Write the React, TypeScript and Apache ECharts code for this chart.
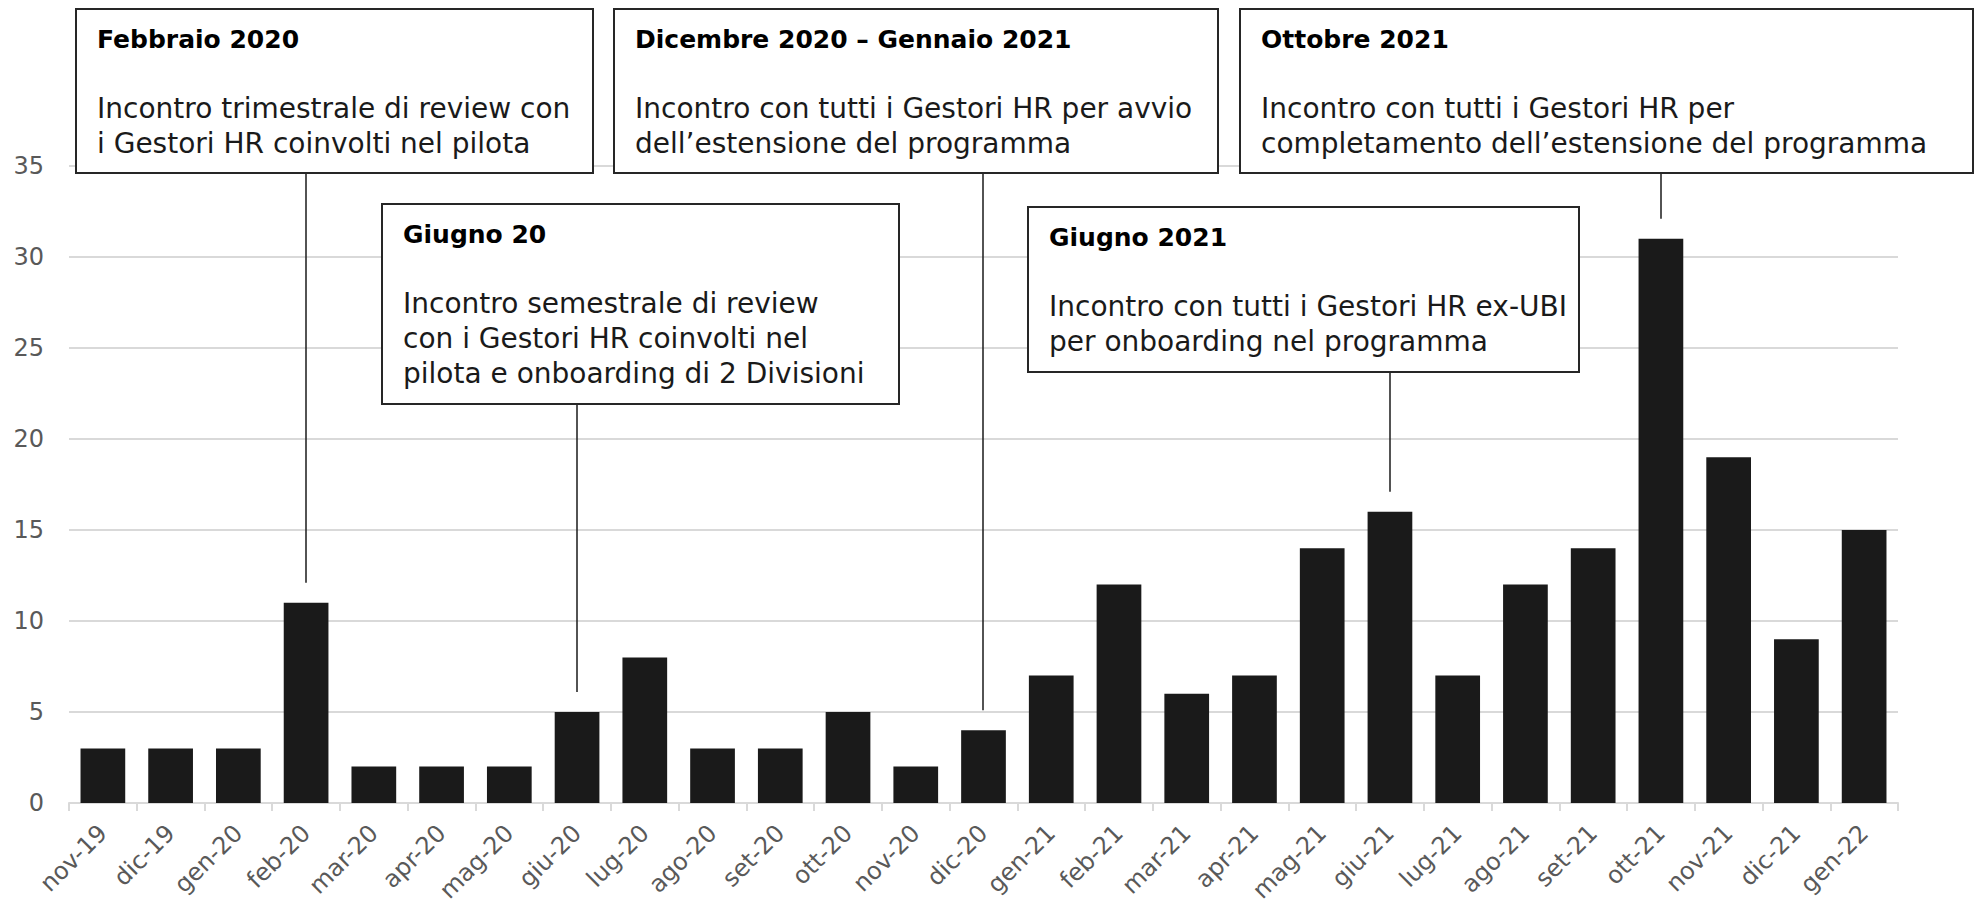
import React, { useEffect, useRef } from "react";
import * as echarts from "echarts";

const categories = [
  "nov-19", "dic-19", "gen-20", "feb-20", "mar-20", "apr-20", "mag-20", "giu-20", "lug-20",
  "ago-20", "set-20", "ott-20", "nov-20", "dic-20", "gen-21", "feb-21", "mar-21", "apr-21",
  "mag-21", "giu-21", "lug-21", "ago-21", "set-21", "ott-21", "nov-21", "dic-21", "gen-22",
];
const values = [3, 3, 3, 11, 2, 2, 2, 5, 8, 3, 3, 5, 2, 4, 7, 12, 6, 7, 14, 16, 7, 12, 14, 31, 19, 9, 15];
const yTicks = { min: 0, max: 35, interval: 5 };

const annotationCategories = ["feb-20", "dic-20", "ott-21", "giu-20", "giu-21"];
const annotationTitles = [
  "Febbraio 2020",
  "Dicembre 2020 – Gennaio 2021",
  "Ottobre 2021",
  "Giugno 20",
  "Giugno 2021",
];
const annotationBodies = [
  ["Incontro trimestrale di review con", "i Gestori HR coinvolti nel pilota"],
  ["Incontro con tutti i Gestori HR per avvio", "dell’estensione del programma"],
  ["Incontro con tutti i Gestori HR per", "completamento dell’estensione del programma"],
  ["Incontro semestrale di review", "con i Gestori HR coinvolti nel", "pilota e onboarding di 2 Divisioni"],
  ["Incontro con tutti i Gestori HR ex-UBI", "per onboarding nel programma"],
];

// layout of the callout boxes (pixels): x, y, width, height
const boxLayout = [
  [76, 9, 517, 164],
  [614, 9, 604, 164],
  [1240, 9, 733, 164],
  [382, 204, 517, 200],
  [1028, 207, 551, 165],
];

const FONT = "DejaVu Sans";

export default function App() {
  const ref = useRef<HTMLDivElement>(null);
  useEffect(() => {
    if (!ref.current) return;
    const chart = echarts.init(ref.current, null, { renderer: "svg" });
    chart.setOption({
      animation: false,
      backgroundColor: "#ffffff",
      grid: {
        left: 69,
        right: 79,
        top: 166,
        bottom: 102,
        containLabel: false,
        outerBoundsMode: "none",
      },
      xAxis: {
        type: "category",
        data: categories,
        axisLine: { lineStyle: { color: "#d9d9d9", width: 2 } },
        axisTick: { show: true, length: 8, lineStyle: { color: "#d9d9d9", width: 2 } },
        axisLabel: {
          show: true,
          interval: 0,
          rotate: 45,
          color: "#595959",
          fontSize: 24,
          fontFamily: FONT,
          margin: 26,
        },
      },
      yAxis: {
        type: "value",
        min: yTicks.min,
        max: yTicks.max,
        interval: yTicks.interval,
        axisLine: { show: false },
        axisTick: { show: false },
        axisLabel: { color: "#595959", fontSize: 24, fontFamily: FONT, margin: 25 },
        splitLine: { lineStyle: { color: "#d9d9d9", width: 2 } },
      },
      series: [
        {
          type: "bar",
          data: values,
          barCategoryGap: "34%",
          itemStyle: { color: "#1a1a1a" },
        },
      ],
    });

    const graphics: any[] = [];
    annotationCategories.forEach((cat, i) => {
      const idx = categories.indexOf(cat);
      const [bx, by, bw, bh] = boxLayout[i];
      const pt = chart.convertToPixel({ gridIndex: 0 }, [idx, values[idx]]) as number[];
      const cx = Math.round(pt[0]);
      graphics.push({
        type: "line",
        shape: { x1: cx, y1: by + bh, x2: cx, y2: pt[1] - 20 },
        style: { stroke: "#1a1a1a", lineWidth: 1.5 },
        z: 10,
      });
      graphics.push({
        type: "rect",
        shape: { x: bx, y: by, width: bw, height: bh },
        style: { fill: "#ffffff", stroke: "#262626", lineWidth: 2 },
        z: 11,
      });
      graphics.push({
        type: "text",
        x: bx + 21,
        y: by + 30,
        style: {
          text: annotationTitles[i],
          fill: "#000000",
          font: `bold 25px '${FONT}'`,
          textVerticalAlign: "middle",
          verticalAlign: "middle",
        },
        z: 12,
      });
      annotationBodies[i].forEach((line, j) => {
        graphics.push({
          type: "text",
          x: bx + 21,
          y: by + 99 + 35 * j,
          style: {
            text: line,
            fill: "#1a1a1a",
            font: `28px '${FONT}'`,
            textVerticalAlign: "middle",
            verticalAlign: "middle",
          },
          z: 12,
        });
      });
    });
    chart.setOption({ graphic: graphics });

    return () => chart.dispose();
  }, []);
  return (
    <div
      ref={ref}
      style={{ position: "fixed", left: 0, top: 0, width: 1977, height: 905 }}
    />
  );
}
